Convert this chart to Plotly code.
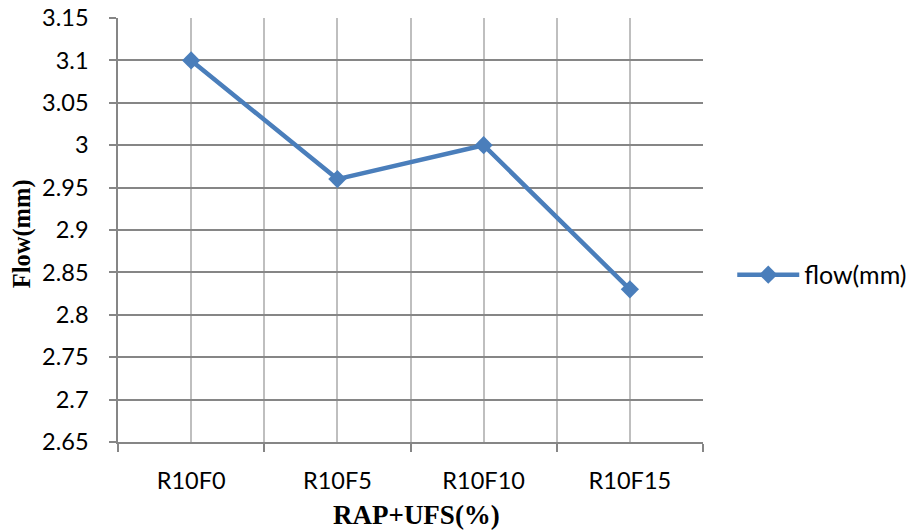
import plotly.graph_objects as go

categories = ["R10F0", "R10F5", "R10F10", "R10F15"]
flow_mm = [3.10, 2.96, 3.00, 2.83]
series_name = "flow(mm)"
x_title = "RAP+UFS(%)"
y_title = "Flow(mm)"

idx = list(range(len(categories)))
blue = "#4A7EBB"
grid_dark = "#868686"
grid_light = "#BFBFBF"

fig = go.Figure()
fig.add_trace(go.Scatter(
    x=idx, y=flow_mm, name=series_name, mode="lines+markers",
    line=dict(color=blue, width=4.5),
    marker=dict(symbol="diamond", size=14, color=blue),
    showlegend=True,
))

fig.update_layout(
    width=908, height=531,
    margin=dict(l=118, r=205, t=18, b=89, autoexpand=False),
    paper_bgcolor="white", plot_bgcolor="white",
    font=dict(family="Lato, sans-serif", size=23.5, color="#000000"),
    showlegend=True,
    legend=dict(x=1.05, xanchor="left", y=0.394, yanchor="middle",
                font=dict(family="Lato, sans-serif", size=25, color="#000000"),
                itemwidth=62, bgcolor="rgba(0,0,0,0)"),
    xaxis=dict(
        range=[-0.5, len(categories) - 0.5], automargin=False,
        tickmode="array", tickvals=idx, ticktext=categories,
        ticks="", showgrid=True, gridcolor=grid_light, gridwidth=1.5,
        showline=True, linecolor=grid_dark, linewidth=1.5,
        zeroline=False, ticklabelstandoff=17,
        minor=dict(tickmode="array",
                   tickvals=[i - 0.5 for i in range(len(categories) + 1)],
                   ticks="outside", ticklen=8, tickcolor=grid_dark, tickwidth=1.5,
                   showgrid=True, gridcolor=grid_light, gridwidth=1.5),
    ),
    yaxis=dict(
        range=[2.65, 3.15], dtick=0.05, tick0=2.65, automargin=False,
        ticks="outside", ticklen=7, tickcolor=grid_dark, tickwidth=1.5,
        showgrid=True, gridcolor=grid_dark, gridwidth=1.5,
        showline=True, linecolor=grid_dark, linewidth=1.5,
        zeroline=False, ticklabelstandoff=16,
    ),
    annotations=[
        dict(text=f"<b>{x_title}</b>", xref="paper", yref="paper",
             x=0.51, y=-0.172, xanchor="center", yanchor="middle", showarrow=False,
             font=dict(family="Liberation Serif, Times New Roman, serif", size=27, color="#000000")),
        dict(text=f"<b>{y_title}</b>", xref="paper", yref="paper",
             x=-0.164, y=0.49, xanchor="center", yanchor="middle", textangle=-90, showarrow=False,
             font=dict(family="Liberation Serif, Times New Roman, serif", size=24.5, color="#000000")),
    ],
)

fig.write_html("out.html")
